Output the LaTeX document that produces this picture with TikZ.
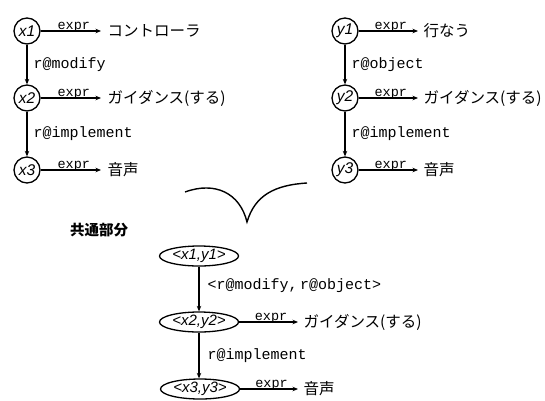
\documentclass[tikz,border=0pt]{standalone}
\usepackage{fontspec}
\setmainfont{Liberation Sans}
\setmonofont{Liberation Mono}
\newfontfamily\jp{Noto Sans CJK JP}
\usetikzlibrary{shapes.geometric,arrows.meta}
\begin{document}
\begin{tikzpicture}[x=1pt,y=-1pt,
 line width=1.3pt,
 arr/.style={-{Stealth[length=5.5pt,width=4.5pt]}},
 cnode/.style={draw,circle,minimum size=26pt,inner sep=0pt,font=\fontsize{15.5}{15.5}\selectfont\itshape},
 enode/.style={draw,ellipse,minimum width=79pt,minimum height=20pt,inner sep=0pt,font=\fontsize{15}{15}\selectfont\itshape},
 jtext/.style={anchor=west,inner sep=0pt,font=\fontsize{15.5}{15.5}\selectfont\jp},
 rel/.style={font=\fontsize{15}{15}\selectfont\ttfamily,inner sep=0pt,anchor=west},
 exprlab/.style={above,inner sep=0pt,yshift=-1.5pt,font=\fontsize{13.5}{13.5}\selectfont\ttfamily}
]
\useasboundingbox (0,0) rectangle (545,400);

% left graph
\node[cnode] (x1) at (27,31) {x1};
\node[cnode] (x2) at (27,98) {x2};
\node[cnode] (x3) at (27,170) {x3};
\node[jtext] (tx1) at (107,31) {コントローラ};
\node[jtext] (tx2) at (107,98) {ガイダンス(する)};
\node[jtext] (tx3) at (107,170) {音声};
\draw[arr] (x1) -- (x2) node[rel,midway,xshift=6pt] {r@modify};
\draw[arr] (x2) -- (x3) node[rel,midway,xshift=6pt] {r@implement};
\draw[arr,shorten >=6pt] (x1) -- (x1 -| tx1.west) node[exprlab,midway] {expr};
\draw[arr,shorten >=6pt] (x2) -- (x2 -| tx2.west) node[exprlab,midway] {expr};
\draw[arr,shorten >=6pt] (x3) -- (x3 -| tx3.west) node[exprlab,midway] {expr};

% right graph
\node[cnode] (y1) at (345,31) {y1};
\node[cnode] (y2) at (345,98) {y2};
\node[cnode] (y3) at (345,170) {y3};
\node[jtext] (ty1) at (423,31) {行なう};
\node[jtext] (ty2) at (423,98) {ガイダンス(する)};
\node[jtext] (ty3) at (423,170) {音声};
\draw[arr] (y1) -- (y2) node[rel,midway,xshift=6pt] {r@object};
\draw[arr] (y2) -- (y3) node[rel,midway,xshift=6pt] {r@implement};
\draw[arr,shorten >=5pt] (y1) -- (y1 -| ty1.west) node[exprlab,midway] {expr};
\draw[arr,shorten >=5pt] (y2) -- (y2 -| ty2.west) node[exprlab,midway] {expr};
\draw[arr,shorten >=5pt] (y3) -- (y3 -| ty3.west) node[exprlab,midway] {expr};

% cup
\draw[line width=1.4pt] (185,192) .. controls (215,181) and (240,193) .. (247,222)
  .. controls (255,195) and (275,185) .. (307,183);

\node[font=\fontsize{14.5}{14.5}\selectfont\jp\bfseries] (common) at (99,230) {共通部分};

% common part
\node[enode] (c1) at (199,256) {<x1,y1>};
\node[enode] (c2) at (199,322) {<x2,y2>};
\node[enode] (c3) at (200,389) {<x3,y3>};
\node[jtext] (tc2) at (303,322) {ガイダンス(する)};
\node[jtext] (tc3) at (303,389) {音声};
\draw[arr] (c1) -- (c1 |- c2.north) node[rel,pos=0.42,xshift=8pt] {<r@modify,\,r@object>};
\draw[arr] (c2) -- (c2 |- c3.north) node[rel,midway,xshift=8pt] {r@implement};
\draw[arr,shorten >=5pt] (c2) -- (c2 -| tc2.west) node[exprlab,midway] {expr};
\draw[arr,shorten >=5pt] (c3) -- (c3 -| tc3.west) node[exprlab,midway] {expr};
\end{tikzpicture}
\end{document}
